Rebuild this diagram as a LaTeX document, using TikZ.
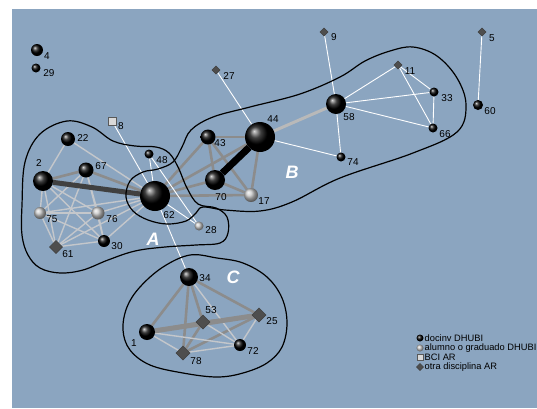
\documentclass[tikz,border=0pt]{standalone}
\usepackage{fontspec}
\setmainfont{Liberation Sans}
\usetikzlibrary{shapes.geometric}
\pgfdeclarelayer{back}\pgfdeclarelayer{edgel}\pgfdeclarelayer{hulll}
\pgfsetlayers{back,edgel,hulll,main}
\definecolor{bgblue}{RGB}{139,165,192}
\definecolor{egray}{RGB}{140,140,140}
\definecolor{elight}{RGB}{196,199,203}
\definecolor{dgray}{RGB}{78,78,78}
\definecolor{mgray}{RGB}{185,185,185}
\begin{document}
\begin{tikzpicture}[x=1pt,y=-1pt,
  dk/.style={circle,inner sep=0pt,outer sep=0pt,shading=ball,ball color=black,minimum size=#1pt},
  lt/.style={circle,inner sep=0pt,outer sep=0pt,shading=ball,ball color=white!55!gray,minimum size=#1pt},
  dm/.style={diamond,inner sep=0pt,outer sep=0pt,fill=dgray,draw=black!75,line width=0.6pt,minimum size=#1pt},
  sq/.style={rectangle,inner sep=0pt,outer sep=0pt,fill=black!15,draw=black!65,line width=0.6pt,minimum size=#1pt},
  lab/.style={font=\fontsize{10}{11}\selectfont,inner sep=0pt,text=black},
  leg/.style={font=\fontsize{9.3}{10}\selectfont,inner sep=0pt,anchor=west,text=black},
  hlab/.style={font=\fontsize{18}{18}\selectfont\bfseries\itshape,text=white,inner sep=0pt},
  ew/.style={white,line width=0.9pt},
  el/.style={elight,line width=1.4pt},
  em/.style={egray,line width=2.6pt},
  hull/.style={black,line width=1.2pt}]
\useasboundingbox (0,0) rectangle (537,408);
\begin{pgfonlayer}{back}
\fill[white] (0,0) rectangle (537,408);
\fill[bgblue] (12,9) rectangle (537,408);
\end{pgfonlayer}
% nodes
\node[dk=12] (n4) at (37,50) {};
\node[dk=9] (n29) at (36,68) {};
\node[sq=8] (n8) at (112,121) {};
\node[dk=14] (n22) at (68,139) {};
\node[dk=20] (n2) at (43,181) {};
\node[dk=15] (n67) at (86,170) {};
\node[dk=9] (n48) at (149,154) {};
\node[dk=30] (n62) at (155,196) {};
\node[lt=12] (n75) at (40,213) {};
\node[lt=13] (n76) at (98,213) {};
\node[dk=12] (n30) at (104,241) {};
\node[dm=13] (n61) at (56,247) {};
\node[lt=9] (n28) at (199,226) {};
\node[dk=15] (n43) at (208,137) {};
\node[dk=20] (n70) at (215,180) {};
\node[lt=14] (n17) at (251,195) {};
\node[dk=30] (n44) at (260,137) {};
\node[dm=8] (n27) at (216,70) {};
\node[dm=8] (n9) at (324,32) {};
\node[dk=20] (n58) at (336,104) {};
\node[dm=8] (n11) at (398,65) {};
\node[dk=9] (n33) at (434,92) {};
\node[dk=9] (n66) at (433,128) {};
\node[dk=9] (n74) at (341,157) {};
\node[dm=8] (n5) at (482,32) {};
\node[dk=10] (n60) at (478,105) {};
\node[dk=18] (n34) at (189,277) {};
\node[dm=14] (n53) at (203,322) {};
\node[dm=14] (n25) at (259,315) {};
\node[dk=16] (n1) at (147,332) {};
\node[dm=14] (n78) at (183,353) {};
\node[dk=12] (n72) at (240,345) {};
% labels
\node[lab] (t4) at (47,56) {4};
\node[lab] (t29) at (49,73) {29};
\node[lab] (t8) at (121,126) {8};
\node[lab] (t22) at (83,138) {22};
\node[lab] (t2) at (39,163) {2};
\node[lab] (t67) at (101,166) {67};
\node[lab] (t48) at (162,160) {48};
\node[lab] (t62) at (169,215) {62};
\node[lab] (t75) at (52,219) {75};
\node[lab] (t76) at (112,219) {76};
\node[lab] (t30) at (117,246) {30};
\node[lab] (t61) at (68,254) {61};
\node[lab] (t28) at (211,230) {28};
\node[lab] (t43) at (220,143) {43};
\node[lab] (t70) at (221,197) {70};
\node[lab] (t17) at (264,201) {17};
\node[lab] (t44) at (273,119) {44};
\node[lab] (t27) at (229,76) {27};
\node[lab] (t9) at (334,37) {9};
\node[lab] (t58) at (349,117) {58};
\node[lab] (t11) at (410,71) {11};
\node[lab] (t33) at (447,98) {33};
\node[lab] (t66) at (445,134) {66};
\node[lab] (t74) at (353,162) {74};
\node[lab] (t5) at (492,38) {5};
\node[lab] (t60) at (490,111) {60};
\node[lab] (t34) at (205,278) {34};
\node[lab] (t53) at (211,310) {53};
\node[lab] (t25) at (272,321) {25};
\node[lab] (t1) at (134,343) {1};
\node[lab] (t78) at (196,361) {78};
\node[lab] (t72) at (253,351) {72};
% hull letters
\node[hlab] (hA) at (153,239) {A};
\node[hlab] (hB) at (292,172) {B};
\node[hlab] (hC) at (233,277) {C};
% legend
\node[dk=7] (g1) at (420,338) {};
\node[leg] (gt1) at (424.5,338) {docinv DHUBI};
\node[lt=7] (g2) at (420,348) {};
\node[leg] (gt2) at (424.5,348) {alumno o graduado DHUBI};
\node[sq=6] (g3) at (420,357.5) {};
\node[leg] (gt3) at (424.5,357.5) {BCI AR};
\node[dm=7] (g4) at (420,367) {};
\node[leg] (gt4) at (424.5,367) {otra disciplina AR};
% edges
\begin{pgfonlayer}{edgel}
\foreach \a/\b in {2/22,22/62,2/75,2/76,2/30,2/61,67/75,67/61,67/30,67/76,75/76,75/30,75/62,75/61,76/61,76/62,76/30,61/30,61/62,30/62}
  \draw[el] (n\a) -- (n\b);
\foreach \a/\b in {2/67,67/62,62/43,62/44,62/70,62/17,43/44,43/70,43/17,70/17,44/17}
  \draw[em] (n\a) -- (n\b);
\draw[black!75,line width=5pt] (n2) -- (n62);
\draw[black,line width=7pt] (n70) -- (n44);
\draw[mgray,line width=3pt] (n44) -- (n58);
\foreach \a/\b in {8/62,48/62,48/28,62/28,62/34,44/27,44/74,58/9,58/11,58/33,58/66,58/74,11/33,11/66,33/66,5/60}
  \draw[ew] (n\a) -- (n\b);
\foreach \a/\b in {34/1,34/78,34/53,34/25,1/53,53/78,53/25,78/25}
  \draw[em] (n\a) -- (n\b);
\foreach \a/\b in {34/72,1/72,1/78,53/72,78/72,25/72}
  \draw[el] (n\a) -- (n\b);
\draw[egray,line width=5pt] (n1) -- (n25);
\end{pgfonlayer}
% hulls
\begin{pgfonlayer}{hulll}
\draw[hull] plot[smooth cycle,tension=0.6] coordinates {(22,205) (25,162) (40,134) (67,121) (92,127) (113,141) (135,146) (156,147) (169,153) (178,167) (187,188) (198,204) (216,208) (227,217) (228,233) (220,243) (196,245) (165,247) (135,251) (108,260) (83,270) (60,273) (40,268) (28,255) (22,235)};
\draw[hull] plot[smooth cycle,tension=0.6] coordinates {(203,207) (225,210) (260,211) (292,202) (340,178) (413,153) (457,132) (466,105) (457,78) (437,56) (413,47) (390,51) (365,61) (340,77) (300,94) (250,107) (213,117) (191,130) (182,147) (173,162) (158,169) (143,172) (130,181) (126,197) (133,211) (148,220) (167,224) (186,221) (196,213)};
\draw[hull] plot[smooth cycle,tension=0.6] coordinates {(190,255) (217,258) (243,263) (267,277) (282,298) (287,323) (282,347) (267,363) (243,373) (217,377) (183,373) (150,365) (130,350) (123,330) (127,307) (140,287) (163,267)};
\end{pgfonlayer}
\end{tikzpicture}
\end{document}
